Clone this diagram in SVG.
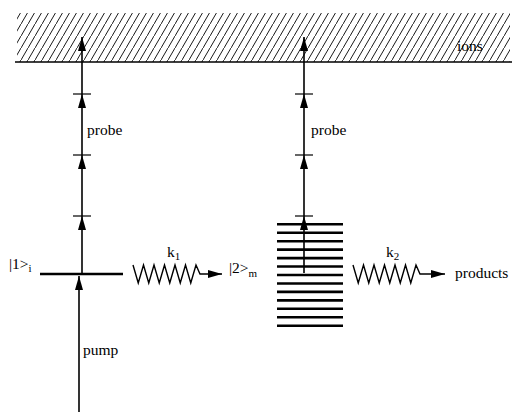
<svg xmlns="http://www.w3.org/2000/svg" width="514" height="412" viewBox="0 0 514 412">
<style>
text{font-family:"Liberation Serif","Times New Roman",serif;font-size:15.5px;fill:#000}
.ln{stroke:#000;stroke-width:1.6;fill:none}
.lvl{stroke:#000;stroke-width:2.6;fill:none}
.zz{stroke:#000;stroke-width:1.4;fill:none;stroke-linejoin:miter}
.tick{stroke:#000;stroke-width:1.2}
</style>
<defs>
<pattern id="hatch" patternUnits="userSpaceOnUse" width="7" height="12">
<line x1="-1" y1="13.7" x2="8" y2="-1.7" stroke="#000" stroke-width="0.9"/>
</pattern>
<marker id="ah" markerUnits="userSpaceOnUse" markerWidth="14" markerHeight="8" refX="14" refY="4" orient="auto">
<path d="M0,0 L14,4 L0,8 z" fill="#000"/>
</marker>
</defs>
<g id="ions">
<rect x="17" y="13" width="493" height="49" fill="url(#hatch)"/>
<line x1="15" y1="62" x2="512" y2="62" stroke="#000" stroke-width="1.5"/>
<rect x="455" y="38" width="30" height="16" fill="#fff" opacity="0"/>
<text x="457" y="51">ions</text>
</g>
<g id="level1">
<line class="lvl" x1="40" y1="274" x2="123" y2="274"/>
<text x="9" y="269">|1&gt;<tspan font-size="11" dy="3">i</tspan></text>
</g>
<g id="level2">
<g class="lvl">
<line x1="277" y1="224.3" x2="343" y2="224.3"/>
<line x1="277" y1="232.75" x2="343" y2="232.75"/>
<line x1="277" y1="241.2" x2="343" y2="241.2"/>
<line x1="277" y1="249.65" x2="343" y2="249.65"/>
<line x1="277" y1="258.1" x2="343" y2="258.1"/>
<line x1="277" y1="266.55" x2="343" y2="266.55"/>
<line x1="277" y1="275" x2="343" y2="275"/>
<line x1="277" y1="283.45" x2="343" y2="283.45"/>
<line x1="277" y1="291.9" x2="343" y2="291.9"/>
<line x1="277" y1="300.35" x2="343" y2="300.35"/>
<line x1="277" y1="308.8" x2="343" y2="308.8"/>
<line x1="277" y1="317.25" x2="343" y2="317.25"/>
<line x1="277" y1="325.7" x2="343" y2="325.7"/>
</g>
<text x="229" y="273">|2&gt;<tspan font-size="11" dy="4">m</tspan></text>
</g>
<g id="products">
<text x="455" y="278">products</text>
</g>
<g id="connectors">
<g class="ln">
<line x1="82" y1="274" x2="82" y2="216" marker-end="url(#ah)"/>
<line x1="82" y1="216" x2="82" y2="155" marker-end="url(#ah)"/>
<line x1="82" y1="155" x2="82" y2="94" marker-end="url(#ah)"/>
<line x1="82" y1="94" x2="82" y2="37" marker-end="url(#ah)"/>
<line x1="304" y1="273" x2="304" y2="216" marker-end="url(#ah)"/>
<line x1="304" y1="216" x2="304" y2="155" marker-end="url(#ah)"/>
<line x1="304" y1="155" x2="304" y2="94" marker-end="url(#ah)"/>
<line x1="304" y1="94" x2="304" y2="37" marker-end="url(#ah)"/>
<line x1="79" y1="412" x2="79" y2="276" marker-end="url(#ah)"/>
</g>
<g class="tick">
<line x1="73" y1="94" x2="91" y2="94"/>
<line x1="73" y1="155" x2="91" y2="155"/>
<line x1="73" y1="216" x2="91" y2="216"/>
<line x1="295" y1="94" x2="313" y2="94"/>
<line x1="295" y1="155" x2="313" y2="155"/>
<line x1="295" y1="216" x2="313" y2="216"/>
</g>
<polyline class="zz" points="133,265 138.25,283 143.5,265 148.75,283 154,265 159.25,283 164.5,265 169.75,283 175,265 180.25,283 185.5,265 190.75,283 196,265 200,274 222,274" marker-end="url(#ah)"/>
<polyline class="zz" points="353,265 358.25,283 363.5,265 368.75,283 374,265 379.25,283 384.5,265 389.75,283 395,265 400.25,283 405.5,265 410.75,283 416,265 420,274 445,274" marker-end="url(#ah)"/>
<text x="87" y="135">probe</text>
<text x="311" y="135">probe</text>
<text x="83" y="355">pump</text>
<text x="167" y="257">k<tspan font-size="11" dy="3">1</tspan></text>
<text x="386" y="257">k<tspan font-size="11" dy="3">2</tspan></text>
</g>
</svg>
